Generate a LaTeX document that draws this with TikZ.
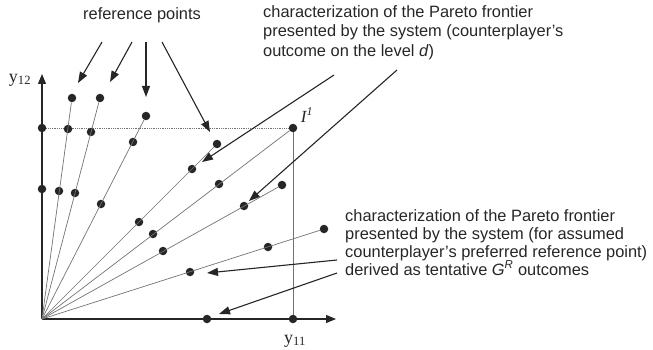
\documentclass[tikz,border=0pt]{standalone}
\usepackage{fontspec}
\setmainfont{Liberation Sans}
\newfontfamily\timesfont{Liberation Serif}
\usetikzlibrary{arrows.meta}

\begin{document}
\begin{tikzpicture}[x=1pt, y=-1pt, font=\fontsize{16.4}{19.5}\selectfont,
    dot/.style={circle, fill=black!85, inner sep=0pt, minimum size=8.5pt},
    ray/.style={draw=black!55, line width=0.7pt},
    guide/.style={draw=black!55, line width=0.8pt, densely dotted},
    axis/.style={draw=black!85, line width=1.1pt, -{Triangle[length=10pt, width=8pt]}},
    callout/.style={draw=black!85, line width=1.1pt, -{Triangle[length=11pt, width=8pt]}},
    note/.style={align=left, inner sep=0pt, text=black!85, anchor=north west}]
  \useasboundingbox (0,0) rectangle (653,350);

  % axes
  \coordinate (O) at (42,319);
  \coordinate (ytop) at (42,74);
  \coordinate (xend) at (336,319);
  \draw[axis] (O) -- (ytop);
  \draw[axis] (O) -- (xend);
  \node[text=black!85, font=\timesfont\fontsize{18}{20}\selectfont] (ylab) at (20,80) {y\textsubscript{12}};
  \node[text=black!85, font=\timesfont\fontsize{18}{20}\selectfont] (xlab) at (295,341) {y\textsubscript{11}};

  % points on the axes and the ideal point
  \node[dot] (a1) at (42,128) {};
  \node[dot] (a2) at (42,189) {};
  \node[dot] (x1) at (207,319) {};
  \node[dot] (x2) at (293,319) {};
  \node[dot] (ideal) at (293,128) {};
  \node[text=black!85, font=\timesfont\itshape\fontsize{17}{20}\selectfont] (ilab) at (307,115) {I\textsuperscript{1}};
  \draw[guide] (a1) -- (ideal);
  \draw[ray] (ideal) -- (x2);

  % rays from the origin
  \node[dot] (b1) at (59,191) {};
  \node[dot] (b2) at (68,129) {};
  \node[dot] (b3) at (72,98) {};
  \node[dot] (c1) at (75,193) {};
  \node[dot] (c2) at (91,132) {};
  \node[dot] (c3) at (100,98) {};
  \node[dot] (d1) at (101,204) {};
  \node[dot] (d2) at (133,142) {};
  \node[dot] (d3) at (146,116) {};
  \node[dot] (e1) at (139,222) {};
  \node[dot] (e2) at (192,169) {};
  \node[dot] (e3) at (217,144) {};
  \node[dot] (f1) at (153,234) {};
  \node[dot] (f2) at (219,184) {};
  \node[dot] (g1) at (163,251) {};
  \node[dot] (g2) at (244,206) {};
  \node[dot] (g3) at (282,185) {};
  \node[dot] (h1) at (190,272) {};
  \node[dot] (h2) at (268,247) {};
  \node[dot] (h3) at (324,229) {};
  \foreach \e in {b3,c3,d3,e3,ideal,g3,h3}
    \draw[ray] (O) -- (\e);

  % annotations
  \node[text=black!85] (refpts) at (142,15) {reference points};
  \coordinate (r1) at (102,42);
  \coordinate (r2) at (132,42);
  \coordinate (r3) at (146,42);
  \coordinate (r4) at (162,42);
  \coordinate (rt1) at (78,83);
  \coordinate (rt2) at (110,82);
  \coordinate (rt3) at (146,97);
  \coordinate (rt4) at (210,132);
  \draw[callout] (r1) -- (rt1);
  \draw[callout] (r2) -- (rt2);
  \draw[callout] (r3) -- (rt3);
  \draw[callout] (r4) -- (rt4);

  \node[note] (frontd) at (263,5)
    {characterization of the Pareto frontier\\presented by the system (counterplayer's\\outcome on the level \textit{d})};
  \coordinate (s1) at (334,75);
  \coordinate (s2) at (397,70);
  \coordinate (st1) at (202,162);
  \coordinate (st2) at (249,201);
  \draw[callout] (s1) -- (st1);
  \draw[callout] (s2) -- (st2);

  \node[note, font=\fontsize{16.4}{18}\selectfont] (frontr) at (345,209)
    {characterization of the Pareto frontier\\presented by the system (for assumed\\counterplayer's preferred reference point)\\derived as tentative \textit{G}\textsuperscript{\textit{R}} outcomes};
  \coordinate (u1) at (337,260);
  \coordinate (u2) at (337,273);
  \coordinate (ut1) at (207,273);
  \coordinate (ut2) at (219,314);
  \draw[callout] (u1) -- (ut1);
  \draw[callout] (u2) -- (ut2);
\end{tikzpicture}
\end{document}
